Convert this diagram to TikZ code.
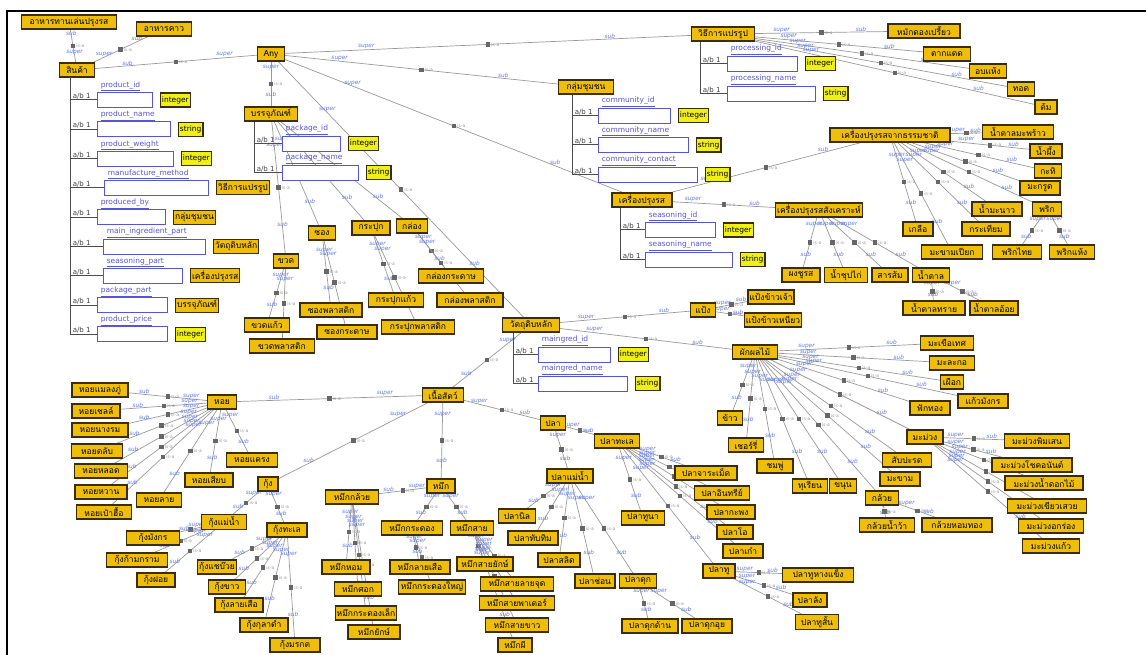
\documentclass[tikz,border=0pt]{standalone}
\usepackage{fontspec}
\setmainfont{DejaVu Sans}
\newfontfamily\thai[Script=Thai]{Loma}
\usetikzlibrary{positioning,backgrounds}

\definecolor{clsfill}{RGB}{238,190,10}
\definecolor{clsline}{RGB}{60,45,5}
\definecolor{dtfill}{RGB}{240,240,20}
\definecolor{propblue}{RGB}{85,85,215}
\definecolor{relblue}{RGB}{95,120,235}

\tikzset{
  cls/.style={draw=clsline, fill=clsfill, line width=1.2pt, inner sep=1.5pt, minimum height=14, font=\thai\fontsize{8.5}{9}\selectfont},
  dtype/.style={draw=clsline, fill=dtfill, line width=1.1pt, inner sep=1.5pt, minimum height=14, font=\fontsize{7.5}{8}\selectfont},
  propbox/.style={draw=propblue, fill=white, line width=0.9pt, minimum height=15, anchor=west},
  proplbl/.style={text=propblue, font=\fontsize{7.5}{8}\selectfont, anchor=south west, inner sep=0.6pt},
  card/.style={text=black!75, font=\fontsize{7}{7}\selectfont, anchor=south west, inner sep=0.6pt},
  spine/.style={draw=black!70, line width=1pt},
  isaline/.style={draw=black!40, line width=0.7pt},
  isasq/.style={fill=black!60, minimum size=4.5, inner sep=0pt},
  isalbl/.style={text=black!40, font=\fontsize{4.5}{5}\selectfont, inner sep=0.5pt},
  rel/.style={text=relblue, font=\itshape\fontsize{5.8}{6}\selectfont, inner sep=0.4pt},
}
\newcommand{\isa}[2]{\draw[isaline] (#1) -- node[rel, pos=.2, above]{super} node[isasq, pos=.5, label={[isalbl]right:is-a}]{} node[rel, pos=.8, above]{sub} (#2);}

\begin{document}
\begin{tikzpicture}[x=1pt, y=-1pt]
	\useasboundingbox (0,0) rectangle (1146,655);
	\draw[line width=2pt] (7,655) -- (7,11) -- (1146,11);
	% top classes
	\node[cls, minimum width=27] (Any) at (271,54) {Any};
	\node[cls, minimum width=95] (snack) at (69,22) {อาหารทานเล่นปรุงรส};
	\node[cls, minimum width=55] (savory) at (164,29) {อาหารคาว};
	\node[cls, minimum width=35] (product) at (77,70) {สินค้า};
	\node[cls, minimum width=53] (pkg) at (271,114) {บรรจุภัณฑ์};
	\node[cls, minimum width=63] (proc) at (723,34) {วิธีการแปรรูป};
	\node[cls, minimum width=55] (comm) at (586,87) {กลุ่มชุมชน};
	\node[cls, minimum width=60] (season) at (642,200) {เครื่องปรุงรส};
	\node[cls, minimum width=120] (natural) at (890,135) {เครื่องปรุงรสจากธรรมชาติ};
	\node[cls, minimum width=86] (synth) at (819,210) {เครื่องปรุงรสสังเคราะห์};
	\node[cls, minimum width=57] (maining) at (531,325) {วัตถุดิบหลัก};
	% properties
	\foreach \sx/\ya/\yb in {70/78/334.4, 254/122/172.5, 700/42/93.5, 572/95/174.5, 620/208/259.5, 513/333/383.5}
		\draw[spine] (\sx,\ya) -- (\sx,\yb);
	\foreach \sx/\y/\bx/\w/\lab/\rng/\st [count=\k] in {
		70/100/97/55/product\_id/integer/dtype,
		70/129.3/97/73/product\_name/string/dtype,
		70/158.6/97/76/product\_weight/integer/dtype,
		70/187.9/104/104/manufacture\_method/วิธีการแปรรูป/cls,
		70/217.2/97/68/produced\_by/กลุ่มชุมชน/cls,
		70/246.5/103/102/main\_ingredient\_part/วัตถุดิบหลัก/cls,
		70/275.8/103/79/seasoning\_part/เครื่องปรุงรส/cls,
		70/305.1/97/70/package\_part/บรรจุภัณฑ์/cls,
		70/334.4/97/70/product\_price/integer/dtype,
		254/143.5/282/58/package\_id/integer/dtype,
		254/172.5/282/76/package\_name/string/dtype,
		700/63.5/727/70/processing\_id/integer/dtype,
		700/93.5/727/88/processing\_name/string/dtype,
		572/115.5/598/72/community\_id/integer/dtype,
		572/145/598/90/community\_name/string/dtype,
		572/174.5/598/99/community\_contact/string/dtype,
		620/230/645/70/seasoning\_id/integer/dtype,
		620/259.5/645/87/seasoning\_name/string/dtype,
		513/354.5/538/72/maingred\_id/integer/dtype,
		513/383.5/538/89/maingred\_name/string/dtype} {
		\draw[spine] (\sx,\y) -- (\bx,\y);
		\node[card] at (\sx+2,\y) {a/b 1};
		\node[propbox, minimum width=\w] (pr\k) at (\bx,\y) {};
		\node[proplbl] at ([xshift=3]pr\k.north west) {\underline{\lab}};
		\node[\st, right=7pt of pr\k] {\rng};
	}
	% packaging
	\node[cls, minimum width=25] (bottle) at (286,261) {ขวด};
	\node[cls, minimum width=27] (sachet) at (322,233) {ซอง};
	\node[cls, minimum width=38] (jar) at (371,228) {กระปุก};
	\node[cls, minimum width=31] (carton) at (412,226) {กล่อง};
	\node[cls, minimum width=45] (bglass) at (267,325) {ขวดแก้ว};
	\node[cls, minimum width=65] (bplastic) at (282,346) {ขวดพลาสติก};
	\node[cls, minimum width=62] (splastic) at (331,310) {ซองพลาสติก};
	\node[cls, minimum width=60] (spaper) at (347,332) {ซองกระดาษ};
	\node[cls, minimum width=55] (jglass) at (396,300) {กระปุกแก้ว};
	\node[cls, minimum width=73] (jplastic) at (418,327) {กระปุกพลาสติก};
	\node[cls, minimum width=65] (cpaper) at (451,276) {กล่องกระดาษ};
	\node[cls, minimum width=66] (cplastic) at (470,300) {กล่องพลาสติก};
	% processing
	\node[cls, minimum width=72] (pickle) at (924,31) {หมักดองเปรี้ยว};
	\node[cls, minimum width=47] (sundry) at (947,54) {ตากแดด};
	\node[cls, minimum width=37] (oven) at (988,71) {อบแห้ง};
	\node[cls, minimum width=27] (fry) at (1021,89) {ทอด};
	\node[cls, minimum width=22] (boil) at (1046,107) {ต้ม};
	% seasoning
	\node[cls, minimum width=71] (cocosugar) at (1018,132) {น้ำตาลมะพร้าว};
	\node[cls, minimum width=32] (honey) at (1046,151) {น้ำผึ้ง};
	\node[cls, minimum width=27] (cocomilk) at (1048,171) {กะทิ};
	\node[cls, minimum width=40] (kaffir) at (1040,188) {มะกรูด};
	\node[cls, minimum width=29] (chili) at (1047,209) {พริก};
	\node[cls, minimum width=50] (lime) at (997,209) {น้ำมะนาว};
	\node[cls, minimum width=48] (garlic) at (986,229) {กระเทียม};
	\node[cls, minimum width=61] (tamarpaste) at (952,252) {มะขามเปียก};
	\node[cls, minimum width=30] (salt) at (918,229) {เกลือ};
	\node[cls, minimum width=49] (pepper) at (1017,252) {พริกไทย};
	\node[cls, minimum width=45] (drychili) at (1072,252) {พริกแห้ง};
	\node[cls, minimum width=38] (msg) at (801,275) {ผงชูรส};
	\node[cls, minimum width=43] (soup) at (846,275) {น้ำซุปไก่};
	\node[cls, minimum width=36] (alum) at (890,275) {สารส้ม};
	\node[cls, minimum width=37] (sugar) at (931,275) {น้ำตาล};
	\node[cls, minimum width=62] (whsugar) at (934,308) {น้ำตาลทราย};
	\node[cls, minimum width=48] (canesugar) at (994,308) {น้ำตาลอ้อย};
	% main ingredient
	\node[cls, minimum width=25] (flour) at (703,310) {แป้ง};
	\node[cls, minimum width=42] (riceflour) at (771,297) {แป้งข้าวเจ้า};
	\node[cls, minimum width=53] (stickyflour) at (773,320) {แป้งข้าวเหนียว};
	\node[cls, minimum width=45] (fruitveg) at (755,352) {ผักผลไม้};
	\node[cls, minimum width=41] (meat) at (443,395) {เนื้อสัตว์};
	% fruit and vegetables
	\node[cls, minimum width=53] (tomato) at (947,343) {มะเขือเทศ};
	\node[cls, minimum width=45] (papaya) at (952,363) {มะละกอ};
	\node[cls, minimum width=23] (taro) at (952,382) {เผือก};
	\node[cls, minimum width=50] (dragon) at (983,401) {แก้วมังกร};
	\node[cls, minimum width=40] (pumpkin) at (930,408) {ฟักทอง};
	\node[cls, minimum width=36] (mango) at (925,437) {มะม่วง};
	\node[cls, minimum width=49] (pineapple) at (907,460) {สับปะรด};
	\node[cls, minimum width=40] (tamarind) at (900,479) {มะขาม};
	\node[cls, minimum width=33] (banana) at (882,498) {กล้วย};
	\node[cls, minimum width=55] (namwa) at (887,525) {กล้วยน้ำว้า};
	\node[cls, minimum width=70] (homthong) at (957,525) {กล้วยหอมทอง};
	\node[cls, minimum width=35] (durian) at (810,486) {ทุเรียน};
	\node[cls, minimum width=27] (jackfruit) at (843,486) {ขนุน};
	\node[cls, minimum width=36] (rosea) at (775,466) {ชมพู่};
	\node[cls, minimum width=35] (cherry) at (746,445) {เชอร์รี่};
	\node[cls, minimum width=25] (rice) at (730,418) {ข้าว};
	\node[cls, minimum width=65] (mgA) at (1037,441) {มะม่วงพิมเสน};
	\node[cls, minimum width=80] (mgB) at (1032,465) {มะม่วงโชคอนันต์};
	\node[cls, minimum width=78] (mgC) at (1044,483) {มะม่วงน้ำดอกไม้};
	\node[cls, minimum width=79] (mgD) at (1047,506) {มะม่วงเขียวเสวย};
	\node[cls, minimum width=65] (mgE) at (1051,526) {มะม่วงอกร่อง};
	\node[cls, minimum width=57] (mgF) at (1051,546) {มะม่วงแก้ว};
	% meat
	\node[cls, minimum width=29] (shell) at (222,402) {หอย};
	\node[cls, minimum width=20] (shrimp) at (268,484) {กุ้ง};
	\node[cls, minimum width=28] (squid) at (441,486) {หมึก};
	\node[cls, minimum width=25] (fish) at (553,423) {ปลา};
	\node[cls, minimum width=56] (mussel) at (100,390) {หอยแมลงภู่};
	\node[cls, minimum width=48] (scallop) at (96,411) {หอยเชลล์};
	\node[cls, minimum width=56] (oyster) at (100,430) {หอยนางรม};
	\node[cls, minimum width=51] (venus) at (97,451) {หอยตลับ};
	\node[cls, minimum width=53] (razor) at (101,471) {หอยหลอด};
	\node[cls, minimum width=52] (babylon) at (101,492) {หอยหวาน};
	\node[cls, minimum width=55] (abalone) at (104,512) {หอยเป๋าฮื้อ};
	\node[cls, minimum width=45] (carpet) at (159,500) {หอยลาย};
	\node[cls, minimum width=48] (siap) at (209,480) {หอยเสียบ};
	\node[cls, minimum width=51] (cockle) at (252,460) {หอยแครง};
	\node[cls, minimum width=45] (rvshrimp) at (224,522) {กุ้งแม่น้ำ};
	\node[cls, minimum width=40] (seashrimp) at (287,530) {กุ้งทะเล};
	\node[cls, minimum width=53] (lobster) at (153,538) {กุ้งมังกร};
	\node[cls, minimum width=61] (prawn) at (137,560) {กุ้งก้ามกราม};
	\node[cls, minimum width=38] (foi) at (156,580) {กุ้งฝอย};
	\node[cls, minimum width=39] (chaebuai) at (217,567) {กุ้งแชบ๊วย};
	\node[cls, minimum width=37] (whshrimp) at (227,587) {กุ้งขาว};
	\node[cls, minimum width=48] (tiger) at (239,605) {กุ้งลายเสือ};
	\node[cls, minimum width=48] (kuladam) at (264,625) {กุ้งกุลาดำ};
	\node[cls, minimum width=50] (morakot) at (295,645) {กุ้งมรกต};
	\node[cls, minimum width=53] (kluai) at (352,497) {หมึกกล้วย};
	\node[cls, minimum width=61] (kradong) at (412,528) {หมึกกระดอง};
	\node[cls, minimum width=43] (sai) at (472,528) {หมึกสาย};
	\node[cls, minimum width=48] (sqA) at (346,567) {หมึกหอม};
	\node[cls, minimum width=47] (sqB) at (358,589) {หมึกศอก};
	\node[cls, minimum width=58] (sqC) at (366,613) {หมึกกระดองเล็ก};
	\node[cls, minimum width=52] (sqD) at (374,632) {หมึกยักษ์};
	\node[cls, minimum width=60] (kdA) at (420,567) {หมึกลายเสือ};
	\node[cls, minimum width=67] (kdB) at (432,587) {หมึกกระดองใหญ่};
	\node[cls, minimum width=56] (saiA) at (485,564) {หมึกสายยักษ์};
	\node[cls, minimum width=73] (saiB) at (517,584) {หมึกสายลายจุด};
	\node[cls, minimum width=75] (saiC) at (517,603) {หมึกสายพาเตอร์};
	\node[cls, minimum width=63] (saiD) at (517,625) {หมึกสายขาว};
	\node[cls, minimum width=34] (saiE) at (515,645) {หมึกผี};
	% fish
	\node[cls, minimum width=45] (seafish) at (617,441) {ปลาทะเล};
	\node[cls, minimum width=46] (rvfish) at (570,476) {ปลาแม่น้ำ};
	\node[cls, minimum width=37] (nil) at (517,516) {ปลานิล};
	\node[cls, minimum width=50] (tubtim) at (533,538) {ปลาทับทิม};
	\node[cls, minimum width=42] (salid) at (559,560) {ปลาสลิด};
	\node[cls, minimum width=40] (chon) at (595,581) {ปลาช่อน};
	\node[cls, minimum width=37] (duk) at (638,581) {ปลาดุก};
	\node[cls, minimum width=56] (dukA) at (650,626) {ปลาดุกด้าน};
	\node[cls, minimum width=50] (dukB) at (707,626) {ปลาดุกอุย};
	\node[cls, minimum width=43] (tuna) at (643,518) {ปลาทูนา};
	\node[cls, minimum width=62] (pomfret) at (706,473) {ปลาจาระเม็ด};
	\node[cls, minimum width=55] (insee) at (722,493) {ปลาอินทรีย์};
	\node[cls, minimum width=48] (kapong) at (731,512) {ปลากะพง};
	\node[cls, minimum width=36] (bonito) at (735,532) {ปลาโอ};
	\node[cls, minimum width=40] (grouper) at (743,551) {ปลาเก๋า};
	\node[cls, minimum width=32] (thu) at (719,571) {ปลาทู};
	\node[cls, minimum width=71] (thuA) at (818,575) {ปลาทูหางแข็ง};
	\node[cls, minimum width=34] (thuB) at (810,600) {ปลาลัง};
	\node[cls, minimum width=43] (thuC) at (817,622) {ปลาทูสั้น};
	% is-a links
	\begin{scope}[on background layer]
	\foreach \a/\b in {Any/product, product/snack, product/savory, Any/pkg, Any/proc, Any/comm, Any/season, Any/maining,
		pkg/bottle, pkg/sachet, pkg/jar, pkg/carton, bottle/bglass, bottle/bplastic, sachet/splastic, sachet/spaper,
		jar/jglass, jar/jplastic, carton/cpaper, carton/cplastic,
		proc/pickle, proc/sundry, proc/oven, proc/fry, proc/boil,
		season/natural, season/synth,
		natural/cocosugar, natural/honey, natural/cocomilk, natural/kaffir, natural/chili, natural/lime, natural/garlic,
		natural/tamarpaste, natural/salt, chili/pepper, chili/drychili,
		synth/msg, synth/soup, synth/alum, synth/sugar, sugar/whsugar, sugar/canesugar,
		maining/flour, maining/fruitveg, maining/meat, flour/riceflour, flour/stickyflour,
		fruitveg/tomato, fruitveg/papaya, fruitveg/taro, fruitveg/dragon, fruitveg/pumpkin, fruitveg/mango, fruitveg/pineapple,
		fruitveg/tamarind, fruitveg/banana, fruitveg/durian, fruitveg/jackfruit, fruitveg/rosea, fruitveg/cherry, fruitveg/rice,
		mango/mgA, mango/mgB, mango/mgC, mango/mgD, mango/mgE, mango/mgF, banana/namwa, banana/homthong,
		meat/shell, meat/shrimp, meat/squid, meat/fish,
		shell/mussel, shell/scallop, shell/oyster, shell/venus, shell/razor, shell/babylon, shell/abalone, shell/carpet, shell/siap, shell/cockle,
		shrimp/rvshrimp, shrimp/seashrimp, rvshrimp/lobster, rvshrimp/prawn, rvshrimp/foi,
		seashrimp/chaebuai, seashrimp/whshrimp, seashrimp/tiger, seashrimp/kuladam, seashrimp/morakot,
		squid/kluai, squid/kradong, squid/sai, kluai/sqA, kluai/sqB, kluai/sqC, kluai/sqD, kradong/kdA, kradong/kdB,
		sai/saiA, sai/saiB, sai/saiC, sai/saiD, sai/saiE,
		fish/seafish, fish/rvfish, rvfish/nil, rvfish/tubtim, rvfish/salid, rvfish/chon, rvfish/duk, duk/dukA, duk/dukB,
		seafish/pomfret, seafish/insee, seafish/kapong, seafish/bonito, seafish/grouper, seafish/tuna, seafish/thu,
		thu/thuA, thu/thuB, thu/thuC}
		{\isa{\a}{\b}}
	\end{scope}
\end{tikzpicture}
\end{document}
